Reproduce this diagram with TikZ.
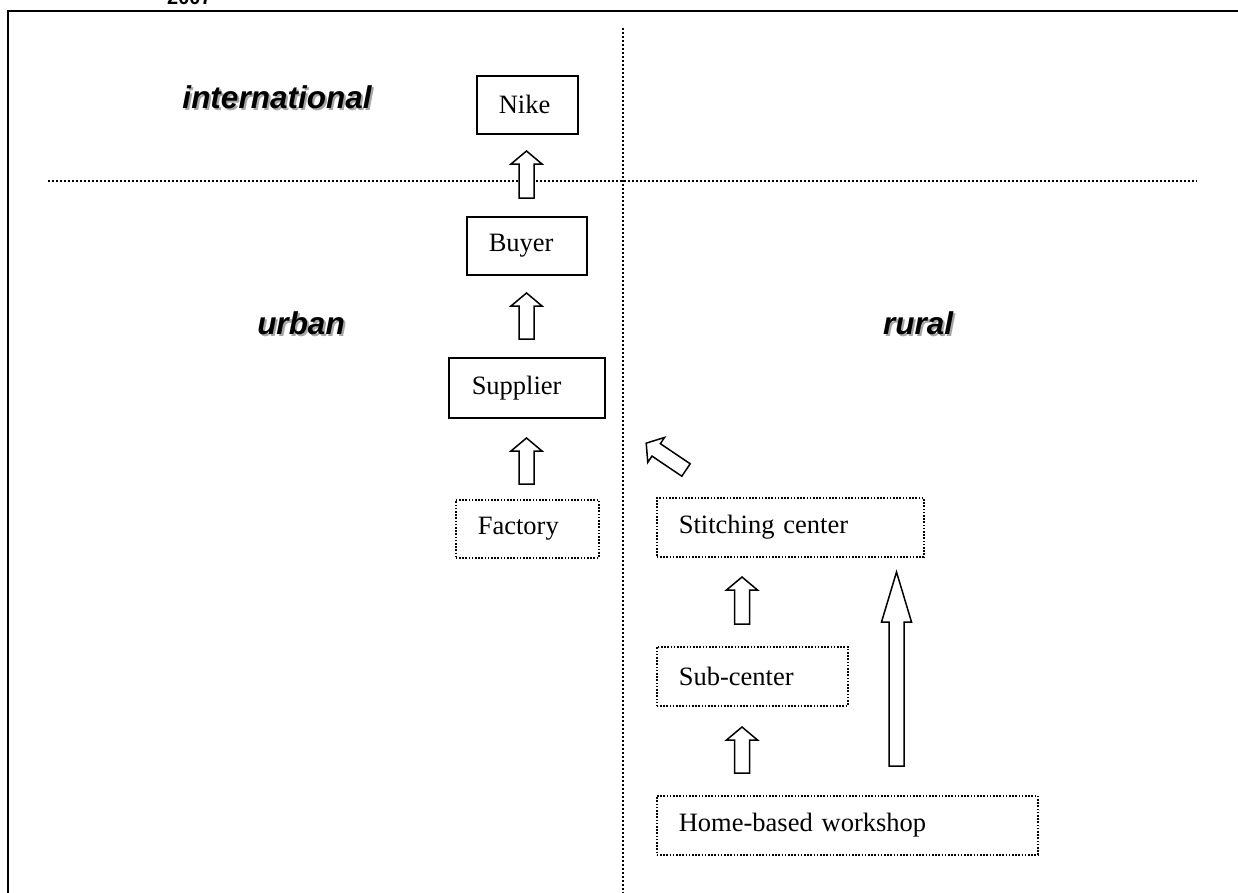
\documentclass[tikz,border=0pt]{standalone}
\usepackage{fontspec}
\setmainfont{Liberation Serif}
\newfontfamily\lblfont{Liberation Sans}
\usetikzlibrary{calc}
\tikzset{
  boxbase/.style={anchor=north west, inner xsep=22pt, inner ysep=0pt, align=left,
    font=\fontsize{26.5}{30}\selectfont},
  solidbox/.style={boxbase, draw, line width=1.5pt},
  dotbox/.style={boxbase, draw, line width=1.7pt, dash pattern=on 1.6pt off 1.6pt},
  blockarrow/.style={draw, line width=1.5pt, fill=white, line join=miter},
  divider/.style={line width=2pt, dash pattern=on 2pt off 2pt},
  lbl/.style={font=\lblfont\bfseries\itshape\fontsize{31.5}{36}\selectfont, inner sep=0pt},
  lblshadow/.style={lbl, text=black!35},
}
\newcommand{\BlkArr}[6]{%
  \draw[blockarrow, shift={(#1,#2)}, rotate=#3]
    (0,-7.5) -- ({#4-#5},-7.5) -- ({#4-#5},-#6) -- (#4,0) -- ({#4-#5},#6)
    -- ({#4-#5},7.5) -- (0,7.5) -- cycle;}
\begin{document}
\begin{tikzpicture}[x=1pt, y=-1pt]
\useasboundingbox (0,0) rectangle (1238,892);
% year, cut off at the top
\node[anchor=base west, inner sep=0pt, font=\lblfont\bfseries\fontsize{20}{24}\selectfont] (year) at (167,4) {2007};
% frame
\draw[line width=2.5pt] (8,912) -- (8,11) -- (1260,11);
% dividers
\coordinate (vtop) at (623,28);
\coordinate (vbot) at (623,900);
\coordinate (hl) at (48,181);
\coordinate (hr) at (1197,181);
\draw[divider] (vtop) -- (vbot);
\draw[divider] (hl) -- (hr);
% region labels
\node[lblshadow] at (279,99) {international};
\node[lbl] (intl) at (277,97) {international};
\node[lblshadow] at (303,325) {urban};
\node[lbl] (urban) at (301,323) {urban};
\node[lblshadow] at (920,325) {rural};
\node[lbl] (rural) at (918,323) {rural};
% boxes
\node[solidbox, minimum width=101pt, minimum height=58pt, text width=57pt] (nike) at (476,75) {Nike};
\node[solidbox, minimum width=120pt, minimum height=58pt, text width=76pt] (buyer) at (466,216) {Buyer};
\node[solidbox, minimum width=156pt, minimum height=60pt, text width=110pt] (supplier) at (448,357) {Supplier};
\node[dotbox, minimum width=143pt, minimum height=58pt, text width=99pt] (factory) at (455,499) {Factory};
\node[dotbox, minimum width=267pt, minimum height=59pt, text width=223pt] (stitch) at (656,497) {Stitching center};
\node[dotbox, minimum width=191pt, minimum height=59pt, text width=147pt] (sub) at (656,646) {Sub-center};
\node[dotbox, minimum width=381pt, minimum height=59pt, text width=337pt] (home) at (656,795) {Home-based workshop};
% block arrows
\BlkArr{526.5}{198}{90}{47}{13}{15.5}
\BlkArr{526.5}{339}{90}{46}{13}{15.5}
\BlkArr{526.5}{484}{90}{46}{13}{15.5}
\BlkArr{686}{470}{146}{48}{12}{15}
\BlkArr{742}{624}{90}{47}{13}{15.5}
\BlkArr{742}{773}{90}{46}{13}{15.5}
\BlkArr{896.5}{766}{90}{194}{50}{15}
\end{tikzpicture}
\end{document}
